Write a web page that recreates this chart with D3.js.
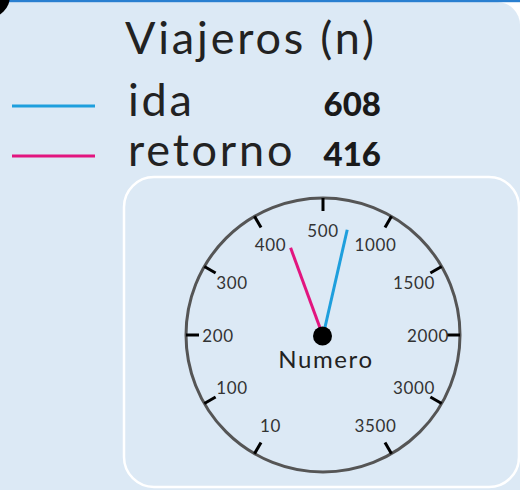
<!DOCTYPE html>
<html>
<head>
<meta charset="utf-8">
<script src="https://cdn.jsdelivr.net/npm/d3@7/dist/d3.min.js"></script>
<style>
  html, body { margin: 0; padding: 0; background: #ffffff; }
  svg { display: block; }
  text { font-family: Lato, "Noto Sans", sans-serif; }
</style>
</head>
<body>
<svg id="chart" width="520" height="490"></svg>
<script>
// ---- data ----
const title = "Viajeros (n)";
const seriesNames = ["ida", "retorno"];
const seriesValues = [608, 416];
const seriesColors = ["#1e9fdd", "#e2157f"];
const tickValues = [10, 100, 200, 300, 400, 500, 1000, 1500, 2000, 3000, 3500];
const tickLabels = ["10", "100", "200", "300", "400", "500", "1000", "1500", "2000", "3000", "3500"];
const gaugeLabel = "Numero";

// ---- layout ----
const W = 520, H = 490;
const cx = 323, cy = 335, R = 137;
const svg = d3.select("#chart");

// background panel
svg.append("rect").attr("x", -60).attr("y", 2).attr("width", 580).attr("height", 600)
  .attr("rx", 23).attr("fill", "#dce9f5");
svg.append("rect").attr("x", 0).attr("y", 0).attr("width", W).attr("height", 2.2)
  .attr("fill", "#2a7fd0");
svg.append("circle").attr("cx", -12).attr("cy", -4).attr("r", 22).attr("fill", "#000");

// title
svg.append("text").attr("x", 125).attr("y", 54).attr("font-size", 45)
  .attr("letter-spacing", 2.8).attr("fill", "#222").text(title);

// legend
const legendY = d3.scalePoint().domain(seriesNames).range([116, 166]);
const lg = svg.append("g");
seriesNames.forEach((name, i) => {
  const y = legendY(name);
  lg.append("line").attr("x1", 12).attr("x2", 95).attr("y1", y - 10).attr("y2", y - 10)
    .attr("stroke", seriesColors[i]).attr("stroke-width", 3);
  lg.append("text").attr("x", 128).attr("y", y).attr("font-size", 45)
    .attr("letter-spacing", 2.8).attr("fill", "#222").text(name);
  lg.append("text").attr("x", 381).attr("y", y).attr("font-size", 33)
    .attr("font-weight", 900).attr("text-anchor", "end")
    .attr("fill", "#1a1a1a").text(seriesValues[i]);
});

// inner rounded box
svg.append("rect").attr("x", 124).attr("y", 177).attr("width", 395).attr("height", 310)
  .attr("rx", 30).attr("fill", "#dce9f5").attr("stroke", "#ffffff").attr("stroke-width", 2.5);

// gauge scale (degrees, 0 = up, clockwise)
const angle = d3.scaleLinear().domain(tickValues).range(d3.range(-150, 151, 30));
const rad = a => a * Math.PI / 180;
const px = (a, r) => cx + r * Math.sin(rad(a));
const py = (a, r) => cy - r * Math.cos(rad(a));

const g = svg.append("g");
g.append("circle").attr("cx", cx).attr("cy", cy).attr("r", R)
  .attr("fill", "none").attr("stroke", "#555").attr("stroke-width", 3);

g.selectAll("line.tick").data(tickValues).join("line").attr("class", "tick")
  .attr("x1", d => px(angle(d), R - 13)).attr("y1", d => py(angle(d), R - 13))
  .attr("x2", d => px(angle(d), R)).attr("y2", d => py(angle(d), R))
  .attr("stroke", "#000").attr("stroke-width", 3);

g.selectAll("text.tl").data(tickValues).join("text").attr("class", "tl")
  .attr("x", d => px(angle(d), 105)).attr("y", d => py(angle(d), 105))
  .attr("text-anchor", "middle").attr("dominant-baseline", "central")
  .attr("font-size", 17).attr("letter-spacing", 0.6).attr("fill", "#333")
  .text((d, i) => tickLabels[i]);

g.append("text").attr("x", cx + 3).attr("y", cy + 33).attr("text-anchor", "middle")
  .attr("font-size", 24).attr("letter-spacing", 1.6).attr("fill", "#222").text(gaugeLabel);

// needles: within its segment the needle turns twice the tick spacing, as drawn in the original
function needleAngle(v) {
  const i = Math.max(0, d3.bisectRight(tickValues, v) - 1);
  const a0 = angle(tickValues[i]);
  return a0 + 2 * (angle(v) - a0);
}
const needleLen = [108, 93];
seriesValues.forEach((v, i) => {
  const a = needleAngle(v);
  g.append("line").attr("x1", cx).attr("y1", cy + 1)
    .attr("x2", px(a, needleLen[i])).attr("y2", py(a, needleLen[i]))
    .attr("stroke", seriesColors[i]).attr("stroke-width", 3);
});
g.append("circle").attr("cx", cx - 0.5).attr("cy", cy + 1).attr("r", 9.5).attr("fill", "#000");
</script>
</body>
</html>
